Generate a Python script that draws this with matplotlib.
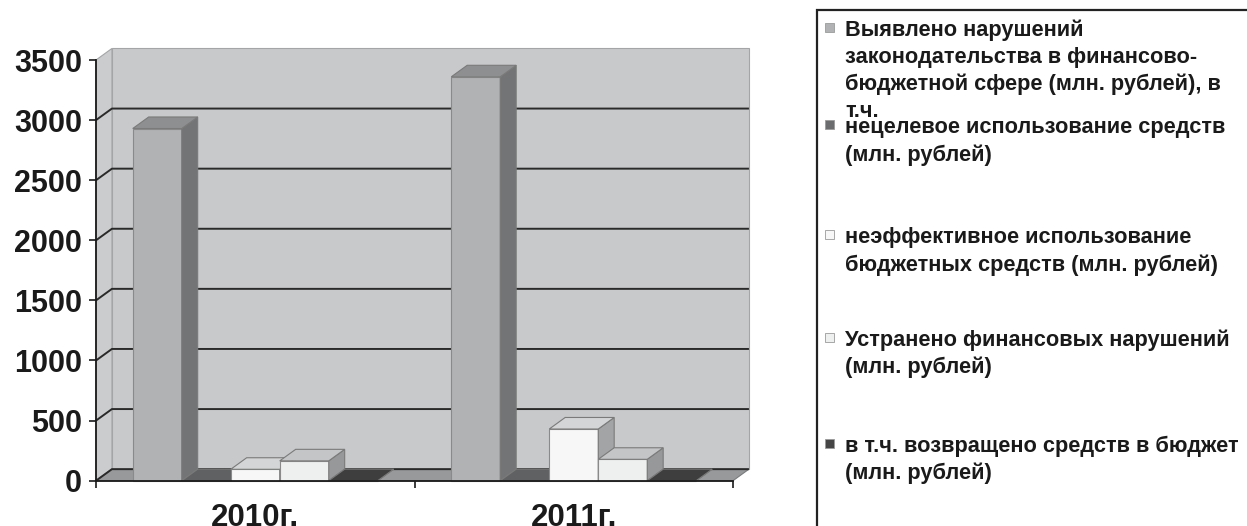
import matplotlib.pyplot as plt
from matplotlib.patches import Polygon, Rectangle

plt.rcParams['font.family'] = ['Liberation Sans', 'DejaVu Sans']
plt.rcParams['font.weight'] = 'bold'

years = ["2010г.", "2011г."]
vyyavleno = [2930, 3360]
necelevoe = [0, 0]
neeffekt = [95, 430]
ustraneno = [165, 178]
vozvrat = [0, 0]
values = [vyyavleno, necelevoe, neeffekt, ustraneno, vozvrat]

labels = [
    "Выявлено нарушений\nзаконодательства в финансово-\nбюджетной сфере (млн. рублей), в\nт.ч.",
    "нецелевое использование средств\n(млн. рублей)",
    "неэффективное использование\nбюджетных средств (млн. рублей)",
    "Устранено финансовых нарушений\n(млн. рублей)",
    "в т.ч. возвращено средств в бюджет\n(млн. рублей)",
]

# front, side, top colours of each series
colors = [
    ("#b1b2b4", "#737476", "#8e8f91"),
    ("#6b6c6e", "#4f5051", "#606163"),
    ("#f7f7f7", "#a3a4a6", "#d4d5d6"),
    ("#eeefef", "#97989a", "#c4c5c7"),
    ("#454545", "#333333", "#3e3e3e"),
]

YMAX = 3500
DX = 0.05   # depth offset in x units
DY = 96     # depth offset in y units
gap = 1.5
w = 1 / (len(values) + gap)

fig = plt.figure(figsize=(12.47, 5.26), dpi=100)
ax = fig.add_axes([96 / 1247, 1 - 480.7 / 526, 637 / 1247, 420.7 / 526])
ax.set_xlim(-0.5, 1.5)
ax.set_ylim(0, YMAX)
ax.patch.set_visible(False)


def poly(pts, fc, ec, z, lw=0.8):
    ax.add_patch(Polygon(pts, closed=True, facecolor=fc, edgecolor=ec,
                         linewidth=lw, zorder=z, clip_on=False))


# walls and floor
x0, x1 = -0.5, 1.5
poly([(x0 + DX, DY), (x1 + DX, DY), (x1 + DX, YMAX + DY), (x0 + DX, YMAX + DY)],
     "#c8c9cb", "#a4a5a7", 0)
poly([(x0, 0), (x0 + DX, DY), (x0 + DX, YMAX + DY), (x0, YMAX)],
     "#cbcccd", "#a4a5a7", 0)
poly([(x0, 0), (x1, 0), (x1 + DX, DY), (x0 + DX, DY)], "#98999b", "#7a7b7d", 1)

for yv in range(0, YMAX, 500):
    ax.plot([x0, x0 + DX, x1 + DX], [yv, yv + DY, yv + DY], color="#2a2a2a",
            lw=1.4, zorder=2, clip_on=False, solid_capstyle="butt")

# bars
z = 3
for ci in range(len(years)):
    start = ci - len(values) * w / 2
    for si, vals in enumerate(values):
        h = vals[ci]
        bx = start + si * w
        fc, sc, tc = colors[si]
        poly([(bx, 0), (bx + w, 0), (bx + w, h), (bx, h)], fc, "#8a8a8a", z)
        poly([(bx + w, 0), (bx + w + DX, DY), (bx + w + DX, h + DY), (bx + w, h)],
             sc, "#7a7a7a", z)
        poly([(bx, h), (bx + w, h), (bx + w + DX, h + DY), (bx + DX, h + DY)],
             tc, "#7a7a7a", z)
        z += 1

for s in ["top", "right"]:
    ax.spines[s].set_visible(False)
for s in ["left", "bottom"]:
    ax.spines[s].set_color("#1a1a1a")
    ax.spines[s].set_linewidth(1.3)
    ax.spines[s].set_zorder(50)

ax.set_yticks(range(0, YMAX + 1, 500))
ax.tick_params(axis="y", length=5, width=1.2, pad=5, labelsize=22, color="#1a1a1a")
ax.set_xticks(range(len(years)))
ax.set_xticklabels(years)
ax.set_xticks([-0.5, 0.5, 1.5], minor=True)
ax.tick_params(axis="x", which="major", length=0, pad=16, labelsize=22.5)
ax.tick_params(axis="x", which="minor", length=5, width=1.2, color="#1a1a1a")
for t in ax.get_yticklabels() + ax.get_xticklabels():
    t.set_fontweight("bold")
    t.set_color("#1a1a1a")

# legend box
fig.add_artist(Rectangle((817 / 1247, -0.1), 0.5, 1 - 10 / 526 + 0.1,
                         transform=fig.transFigure, facecolor="white",
                         edgecolor="#222222", linewidth=1.6, zorder=0))
baselines = [36, 133, 243, 346, 452]
spacing = [27, 27.5, 27.5, 27.5, 27.5]
for si, lab in enumerate(labels):
    b = baselines[si]
    fig.add_artist(Rectangle((825 / 1247, 1 - (b - 4) / 526), 9 / 1247, 9 / 526,
                             transform=fig.transFigure, facecolor=colors[si][0],
                             edgecolor="#9a9a9a", linewidth=0.6, zorder=2))
    for li, line in enumerate(lab.split("\n")):
        fig.text(845 / 1247, 1 - (b + spacing[si] * li) / 526, line, fontsize=15.7,
                 fontweight="bold", color="#1a1a1a", va="baseline", ha="left")

fig.savefig("out.png", dpi=100)
